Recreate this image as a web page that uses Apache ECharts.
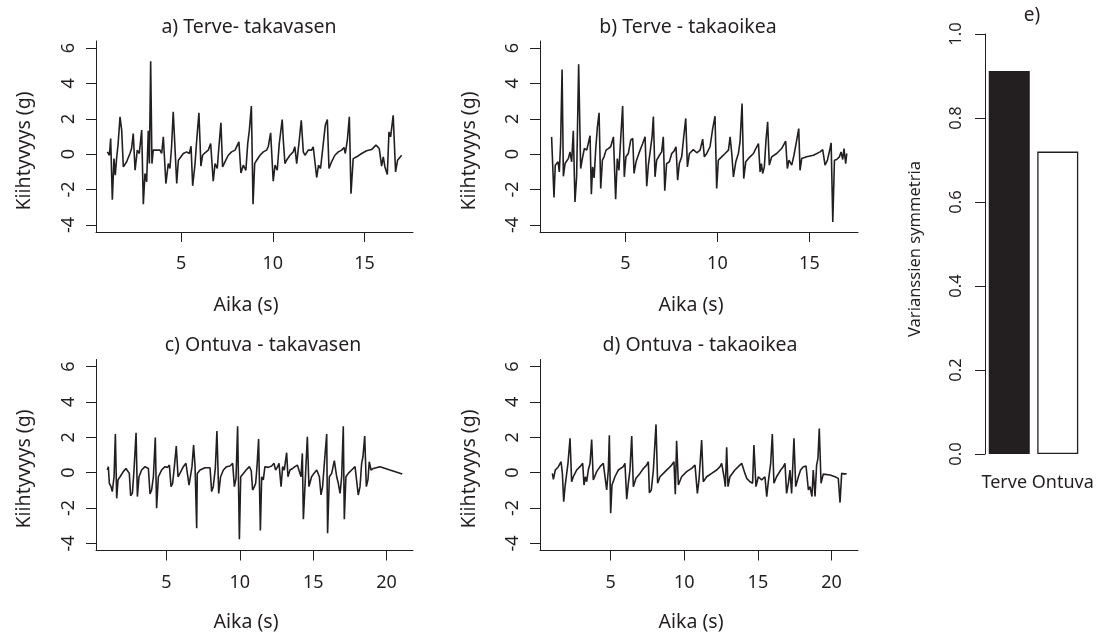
<!DOCTYPE html>
<html>
<head>
<meta charset="utf-8">
<script src="https://cdn.jsdelivr.net/npm/echarts@6/dist/echarts.min.js"></script>
<style>
  html, body { margin: 0; padding: 0; background: #fff; }
  #chart { width: 1101px; height: 633px; }
</style>
</head>
<body>
<div id="chart"></div>
<script>
// kiihtyvyys (g) ajan (s) funktiona, luettu kuvasta
var terveVasen = [[0.98,0.13],[1.09,-0.06],[1.16,0.89],[1.25,-2.57],[1.34,-0.25],[1.41,-1.19],[1.49,-0.15],[1.56,0.51],[1.67,2.11],[1.76,1.36],[1.85,-0.72],[2.03,-0.43],[2.21,0.04],[2.30,0.32],[2.39,1.17],[2.49,-0.91],[2.61,0.23],[2.72,0.04],[2.85,1.36],[2.94,-2.83],[3.03,-1.09],[3.12,-1.57],[3.21,1.32],[3.27,-0.53],[3.34,5.26],[3.41,-0.53],[3.48,0.23],[3.67,0.23],[3.85,0.23],[3.94,0.04],[4.03,0.98],[4.17,-1.66],[4.30,-0.53],[4.39,-0.81],[4.48,0.42],[4.57,2.40],[4.67,2.30],[4.76,-1.66],[4.85,-0.34],[5.12,0.04],[5.30,0.13],[5.45,0.04],[5.54,0.45],[5.63,-1.79],[5.76,-0.53],[5.85,0.79],[5.97,2.34],[6.08,-0.68],[6.17,-0.06],[6.30,0.08],[6.48,0.23],[6.61,0.60],[6.75,-1.53],[6.85,-0.53],[6.97,-0.81],[7.06,0.42],[7.17,1.77],[7.26,-0.72],[7.39,-0.43],[7.57,-0.06],[7.75,0.13],[7.94,0.23],[8.03,0.32],[8.15,0.70],[8.26,-1.06],[8.39,-0.62],[8.53,-0.91],[8.63,0.60],[8.72,1.36],[8.83,2.72],[8.92,-2.83],[9.01,-0.53],[9.12,-0.34],[9.30,-0.06],[9.48,0.13],[9.66,0.23],[9.75,0.42],[9.88,1.21],[10.02,-1.53],[10.12,-0.62],[10.24,-0.91],[10.35,0.60],[10.51,1.96],[10.57,0.79],[10.66,-0.53],[10.75,-0.34],[10.93,-0.06],[11.11,0.13],[11.20,0.42],[11.30,-0.53],[11.44,0.79],[11.55,1.92],[11.66,0.13],[11.75,-0.06],[11.93,0.23],[12.11,0.23],[12.20,0.42],[12.29,0.32],[12.39,-1.32],[12.49,-0.62],[12.60,-0.81],[12.75,0.60],[12.86,1.64],[12.97,1.96],[13.06,-0.81],[13.20,-0.43],[13.38,-0.06],[13.57,0.13],[13.75,0.23],[13.88,0.38],[13.95,0.04],[14.06,0.79],[14.17,2.11],[14.26,-2.23],[14.38,-0.25],[14.57,-0.15],[14.84,0.04],[15.11,0.19],[15.38,0.26],[15.62,0.51],[15.80,0.32],[15.93,-0.68],[16.02,-0.15],[16.11,-0.72],[16.24,-1.15],[16.33,1.26],[16.42,0.98],[16.56,2.20],[16.69,-1.00],[16.80,-0.34],[17.02,-0.06]];

var terveOikea = [[0.99,0.98],[1.12,-2.45],[1.19,-0.62],[1.27,-0.72],[1.34,-0.43],[1.41,-1.00],[1.48,0.60],[1.56,4.79],[1.63,-1.25],[1.72,-0.53],[1.81,-0.43],[1.90,-0.25],[1.99,0.13],[2.08,-0.43],[2.17,1.32],[2.26,-2.70],[2.35,-1.28],[2.46,5.09],[2.57,-0.81],[2.68,-0.15],[2.77,0.32],[2.90,0.23],[2.99,0.32],[3.08,1.04],[3.15,-2.26],[3.22,-0.72],[3.30,-1.34],[3.39,0.32],[3.48,1.55],[3.57,2.34],[3.66,-1.94],[3.75,-0.34],[3.84,-0.15],[3.95,0.23],[4.07,0.32],[4.20,0.42],[4.35,0.98],[4.47,-2.55],[4.56,-0.25],[4.65,-0.91],[4.74,0.79],[4.85,2.72],[4.94,-1.28],[5.03,-0.15],[5.16,0.04],[5.29,0.79],[5.40,0.89],[5.47,-1.09],[5.58,-0.43],[5.70,-0.06],[5.80,0.23],[5.94,0.60],[6.07,0.98],[6.16,-1.81],[6.25,-0.62],[6.34,-0.53],[6.45,0.98],[6.52,2.13],[6.61,-1.28],[6.70,-0.34],[6.85,-0.06],[6.97,0.13],[7.06,0.98],[7.14,-2.06],[7.24,-0.53],[7.39,-0.43],[7.52,0.04],[7.64,0.17],[7.75,0.42],[7.84,-1.47],[7.93,-0.53],[8.06,-0.15],[8.15,0.79],[8.28,2.02],[8.37,-0.72],[8.48,0.04],[8.69,0.26],[8.88,0.08],[9.06,0.23],[9.20,0.85],[9.29,-0.15],[9.42,0.04],[9.60,0.42],[9.74,1.42],[9.87,2.15],[9.96,-1.94],[10.05,-0.34],[10.23,-0.15],[10.42,0.04],[10.60,0.23],[10.69,0.98],[10.78,0.04],[10.87,-1.28],[11.00,-0.43],[11.14,0.04],[11.23,0.70],[11.34,2.87],[11.43,-1.38],[11.54,-0.43],[11.77,-0.15],[11.96,0.04],[12.14,0.42],[12.23,0.60],[12.32,-1.00],[12.39,-0.53],[12.46,-1.09],[12.55,-0.72],[12.64,0.79],[12.73,1.83],[12.82,-0.62],[12.95,-0.15],[13.22,0.04],[13.49,0.32],[13.71,0.74],[13.80,-0.81],[13.89,-0.34],[14.04,-0.62],[14.16,-0.06],[14.31,0.79],[14.42,1.45],[14.49,-0.91],[14.58,-0.25],[14.85,-0.15],[15.22,-0.06],[15.58,0.13],[15.72,0.26],[15.85,-0.62],[15.98,-0.34],[16.12,0.32],[16.18,0.64],[16.27,-3.83],[16.36,-0.34],[16.48,-0.30],[16.63,-0.15],[16.72,0.13],[16.81,-0.30],[16.88,0.32],[16.97,-0.53],[17.03,0.04]];

var ontuvaVasen = [[0.97,0.15],[1.04,0.34],[1.11,-0.60],[1.22,-0.79],[1.31,-1.07],[1.43,-0.23],[1.52,2.18],[1.61,-1.45],[1.70,-0.41],[1.84,-0.23],[2.06,0.06],[2.24,0.24],[2.47,-0.04],[2.56,-1.30],[2.68,-1.17],[2.79,0.15],[2.93,2.26],[3.02,-1.35],[3.13,-0.23],[3.31,0.15],[3.54,0.34],[3.77,0.24],[3.88,-1.20],[3.99,-0.98],[4.11,-0.23],[4.24,1.99],[4.33,-2.01],[4.45,-0.23],[4.67,0.15],[4.90,0.34],[5.08,0.30],[5.20,0.43],[5.31,-0.79],[5.42,-0.60],[5.54,0.34],[5.67,1.50],[5.79,-0.23],[5.92,-0.04],[6.15,0.34],[6.33,0.53],[6.42,0.49],[6.54,-0.70],[6.65,-0.79],[6.74,0.34],[6.85,1.56],[6.95,0.34],[7.06,-3.14],[7.10,-0.04],[7.29,0.15],[7.63,0.28],[7.97,0.28],[8.08,-1.07],[8.19,-0.79],[8.33,0.24],[8.44,2.35],[8.56,-1.17],[8.69,-0.23],[8.88,0.15],[9.10,0.34],[9.33,0.38],[9.51,0.53],[9.63,-0.79],[9.74,-0.32],[9.85,2.63],[9.97,-3.76],[10.06,-0.23],[10.24,-0.04],[10.47,0.19],[10.65,0.34],[10.78,0.11],[10.87,-0.98],[10.99,-0.79],[11.08,-0.60],[11.17,0.34],[11.28,1.90],[11.40,-3.27],[11.49,-0.23],[11.60,-0.41],[11.71,0.34],[11.94,0.30],[12.17,0.38],[12.33,0.53],[12.44,0.15],[12.58,0.34],[12.67,0.53],[12.81,-0.79],[12.92,0.34],[13.03,0.15],[13.19,1.13],[13.28,-0.23],[13.42,0.15],[13.60,0.24],[13.76,0.34],[13.92,0.43],[14.05,0.53],[14.17,-0.23],[14.26,1.09],[14.33,-2.63],[14.46,-0.41],[14.60,2.03],[14.71,-0.79],[14.89,-0.23],[15.05,-0.04],[15.24,0.15],[15.42,-0.23],[15.53,-1.26],[15.64,-0.79],[15.76,0.53],[15.92,2.18],[15.98,-3.42],[16.10,-0.23],[16.26,-0.04],[16.44,0.68],[16.60,-0.23],[16.71,-0.60],[16.83,-1.17],[16.94,-0.23],[17.05,2.63],[17.12,-2.63],[17.23,-0.23],[17.39,-0.04],[17.62,0.15],[17.85,0.34],[17.96,0.43],[18.07,-1.26],[18.19,-0.79],[18.30,0.53],[18.39,0.90],[18.51,2.07],[18.62,-0.79],[18.73,-0.41],[18.82,0.62],[18.94,0.15],[19.10,0.24],[19.55,0.34],[20.23,0.15],[21.07,-0.08]];

var ontuvaOikea = [[1.04,-0.04],[1.11,-0.38],[1.24,0.15],[1.45,0.34],[1.63,0.62],[1.72,-0.04],[1.81,-1.64],[1.90,-0.79],[2.01,-0.79],[2.10,0.53],[2.24,1.94],[2.35,-0.51],[2.46,-0.23],[2.69,0.15],[2.92,0.34],[3.10,0.53],[3.19,-0.70],[3.28,-0.23],[3.37,-0.51],[3.48,0.15],[3.60,0.53],[3.71,1.88],[3.82,-0.41],[4.05,0.06],[4.28,0.34],[4.50,0.53],[4.62,0.62],[4.73,-0.98],[4.84,0.15],[4.91,2.12],[5.00,-2.29],[5.09,-0.70],[5.29,-0.23],[5.52,0.15],[5.86,0.34],[5.97,0.53],[6.09,-1.50],[6.20,-0.60],[6.31,0.15],[6.43,2.07],[6.54,-0.79],[6.72,-0.32],[6.99,-0.04],[7.22,0.24],[7.44,0.43],[7.56,0.62],[7.63,-1.13],[7.76,-0.98],[7.90,0.15],[8.08,2.73],[8.19,-0.60],[8.35,-0.23],[8.58,-0.04],[8.92,0.24],[9.14,0.43],[9.30,0.62],[9.39,-1.22],[9.48,1.80],[9.60,-0.70],[9.82,-0.23],[10.16,0.06],[10.50,0.24],[10.73,0.43],[10.89,-1.17],[11.00,-0.41],[11.18,1.84],[11.29,-0.51],[11.52,-0.23],[11.86,-0.04],[12.20,0.15],[12.43,0.34],[12.54,0.53],[12.70,-0.23],[12.79,-0.79],[12.88,1.43],[12.97,-0.79],[13.10,-0.23],[13.44,0.15],[13.67,0.34],[13.90,0.53],[14.01,0.62],[14.12,-0.04],[14.24,-0.32],[14.35,-0.23],[14.46,-0.51],[14.64,-0.60],[14.73,1.56],[14.87,-0.79],[15.03,-0.23],[15.26,-0.41],[15.48,-0.23],[15.60,-1.35],[15.71,-0.51],[15.87,0.53],[15.98,2.18],[16.09,-0.60],[16.27,-0.23],[16.55,0.15],[16.73,0.34],[16.84,0.53],[16.95,-1.17],[17.07,-0.60],[17.18,0.15],[17.29,-1.17],[17.45,1.94],[17.57,-0.79],[17.75,-0.23],[17.90,0.15],[18.09,0.34],[18.27,0.38],[18.43,-0.98],[18.54,-0.79],[18.67,-1.35],[18.76,0.15],[18.88,-1.35],[18.99,0.43],[19.08,0.81],[19.17,2.50],[19.29,-0.60],[19.44,-0.08],[19.90,-0.13],[20.24,-0.23],[20.46,-0.32],[20.58,-1.69],[20.69,-0.04],[20.80,-0.08],[20.92,-0.08],[21.03,-0.04]];

var ryhmat = ['Terve', 'Ontuva'];
var symmetria = [0.912, 0.72];

var yTicks = [-4, -2, 0, 2, 4, 6];
var xTicksLyhyt = [5, 10, 15];
var xTicksPitka = [5, 10, 15, 20];
var symTicks = [0, 0.2, 0.4, 0.6, 0.8, 1.0];

var otsikot = ['a) Terve- takavasen', 'b) Terve - takaoikea', 'c) Ontuva - takavasen', 'd) Ontuva - takaoikea'];

var INK = '#231f20';
var FONT = '"Noto Sans", sans-serif';

function extend(a, b) {
    for (var k in b) a[k] = b[k];
    return a;
}

var chart = echarts.init(document.getElementById('chart'), null, { renderer: 'canvas' });

// R:n 4 % laajennus akselirajoihin
var grids = [
    { left: 96, top: 41, width: 317, height: 191 },
    { left: 540, top: 41, width: 318, height: 191 },
    { left: 96, top: 359.5, width: 317, height: 191 },
    { left: 540, top: 359.5, width: 318, height: 191 },
    { left: 985, top: 34, width: 97, height: 420 }
];
var xRange = [[0.36, 17.64], [0.36, 17.64], [0.2, 21.8], [0.2, 21.8]];
var xTickSets = [xTicksLyhyt, xTicksLyhyt, xTicksPitka, xTicksPitka];
var sarjat = [terveVasen, terveOikea, ontuvaVasen, ontuvaOikea];

var axisLine = { show: true, onZero: false, lineStyle: { color: INK, width: 1 } };
var tickStyle = { color: INK, width: 1 };
function fontti(koko) { return { color: INK, fontSize: koko, fontFamily: FONT }; }

var xAxes = [], yAxes = [], series = [];
for (var i = 0; i < 4; i++) {
    xAxes.push({
        type: 'value', gridIndex: i, min: xRange[i][0], max: xRange[i][1],
        axisLine: axisLine,
        axisTick: { show: true, length: 10, customValues: xTickSets[i], lineStyle: tickStyle },
        axisLabel: extend({ margin: 23, customValues: xTickSets[i] }, fontti(18)),
        splitLine: { show: false }
    });
    yAxes.push({
        type: 'value', gridIndex: i, min: -4.4, max: 6.4,
        axisLine: axisLine,
        axisTick: { show: true, length: 10, customValues: yTicks, lineStyle: tickStyle },
        axisLabel: extend({ margin: 18, rotate: 90, customValues: yTicks }, fontti(18)),
        splitLine: { show: false }
    });
    series.push({
        type: 'line', xAxisIndex: i, yAxisIndex: i, data: sarjat[i],
        showSymbol: false, symbol: 'none',
        lineStyle: { color: INK, width: 1.6 }
    });
}

// pylväiden nimet hieman sivuun, kuten alkuperäisessä
xAxes.push({
    type: 'category', gridIndex: 4, data: ryhmat,
    axisLine: { show: false }, axisTick: { show: false },
    axisLabel: extend({
        margin: 20, interval: 0,
        formatter: function (v, k) { return k === 0 ? '{l|' + v + '}' : '{r|' + v + '}'; },
        rich: {
            l: extend({ padding: [0, 10, 0, 0] }, fontti(18)),
            r: extend({ padding: [0, 0, 0, 10] }, fontti(18))
        }
    }, fontti(18))
});
yAxes.push({
    type: 'value', gridIndex: 4, min: 0, max: 1,
    axisLine: axisLine,
    axisTick: { show: true, length: 10, customValues: symTicks, lineStyle: tickStyle },
    axisLabel: extend({
        margin: 20, rotate: 90, customValues: symTicks,
        formatter: function (v) { return v.toFixed(1); }
    }, fontti(16.5)),
    splitLine: { show: false }
});
series.push({
    type: 'bar', xAxisIndex: 4, yAxisIndex: 4, barWidth: 41,
    data: symmetria.map(function (v, k) {
        return {
            value: v,
            itemStyle: { color: k === 0 ? INK : '#ffffff', borderColor: INK, borderWidth: 1.3 }
        };
    })
});

function teksti(str, x, y, koko, kierto) {
    return {
        type: 'text', x: x, y: y, rotation: kierto ? Math.PI / 2 : 0,
        style: {
            text: str, fill: INK, font: koko + 'px ' + FONT,
            textAlign: 'center', textVerticalAlign: 'middle', verticalAlign: 'middle'
        }
    };
}

var graphic = [
    teksti(otsikot[0], 249, 27, 19.5), teksti(otsikot[1], 688, 27, 19.5),
    teksti(otsikot[2], 263, 345, 19.5), teksti(otsikot[3], 700, 345, 19.5),
    teksti('Aika (s)', 246, 305, 19.5), teksti('Aika (s)', 691, 305, 19.5),
    teksti('Aika (s)', 246, 622, 19.5), teksti('Aika (s)', 691, 622, 19.5),
    teksti('Kiihtyvyys (g)', 24, 151, 19.5, true), teksti('Kiihtyvyys (g)', 469, 151, 19.5, true),
    teksti('Kiihtyvyys (g)', 24, 469, 19.5, true), teksti('Kiihtyvyys (g)', 469, 469, 19.5, true),
    teksti('Varianssien symmetria', 915, 249, 16.5, true),
    teksti('e)', 1032, 16, 19)
];

chart.setOption({
    animation: false,
    backgroundColor: '#ffffff',
    grid: grids,
    xAxis: xAxes,
    yAxis: yAxes,
    series: series,
    graphic: graphic
});
</script>
</body>
</html>
